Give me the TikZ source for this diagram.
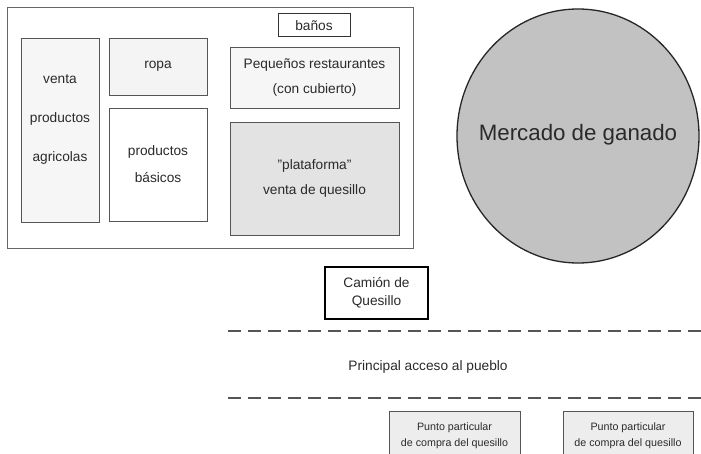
\documentclass[tikz,border=0pt]{standalone}
\usepackage{fontspec}
\setmainfont{Liberation Sans}
\definecolor{linegray}{HTML}{555555}
\definecolor{textgray}{HTML}{2A2A2A}
\tikzset{
  puesto/.style={draw=linegray, line width=0.9pt, inner sep=0pt, align=center, text=textgray},
  txt/.style={font=\fontsize{13.7}{#1}\selectfont},
  txt/.default=16,
  camino/.style={draw=linegray, line width=1.3pt, dash pattern=on 13pt off 7pt}
}
\begin{document}
\begin{tikzpicture}[x=1pt,y=-1pt]
  \clip (0,0) rectangle (701,454);
  \fill[white] (0,0) rectangle (701,454);
  % plaza
  \node[puesto, line width=0.8pt, draw=black!60, minimum width=406pt, minimum height=241pt] (plaza) at (210,127.5) {};
  \node[puesto, fill=gray!7, minimum width=78pt, minimum height=184pt] (venta) at (60,130) {};
  \node[txt=39, align=center, text=textgray, inner sep=0pt] (ventatxt) at (60,119) {venta\\productos\\agricolas};
  \node[puesto, txt, fill=gray!9, minimum width=98pt, minimum height=57pt] (ropa) at (158,66.5) {ropa};
  \node[puesto, txt=27, fill=white, minimum width=98pt, minimum height=113pt] (basicos) at (158,164.5) {productos\\b\'asicos};
  \node[puesto, txt, line width=1pt, draw=black!80, fill=white, minimum width=72pt, minimum height=23pt] (banos) at (314,25.5) {ba\~nos};
  \node[puesto, txt=25, fill=gray!7, minimum width=169pt, minimum height=61pt] (restaurantes) at (314.5,78) {Peque\~nos restaurantes\\(con cubierto)};
  \node[puesto, txt=25, fill=gray!22, minimum width=169pt, minimum height=113pt] (plataforma) at (314.5,178.5) {\symbol{34}plataforma\symbol{34}\\venta de quesillo};
  % mercado
  \draw[draw=black!85, line width=1.3pt, fill=gray!48] (578,136) ellipse [x radius=121pt, y radius=127pt];
  \node[font=\fontsize{22.3}{26}\selectfont, text=textgray] (mercado) at (578,135) {Mercado de ganado};
  % camion y camino
  \node[puesto, txt=18, draw=black, line width=2pt, fill=white, minimum width=103pt, minimum height=52pt] (camion) at (376.5,293) {Cami\'on de\\Quesillo};
  \draw[camino] (228,331) -- (701,331);
  \node[txt, text=textgray] (acceso) at (428,367) {Principal acceso al pueblo};
  \draw[camino] (228,398) -- (701,398);
  \node[puesto, font=\fontsize{10.7}{16}\selectfont, fill=gray!14, minimum width=131pt, minimum height=50pt] (punto1) at (454.5,436) {Punto particular\\de compra del quesillo};
  \node[puesto, font=\fontsize{10.7}{16}\selectfont, fill=gray!14, minimum width=130pt, minimum height=50pt] (punto2) at (628,436) {Punto particular\\de compra del quesillo};
\end{tikzpicture}
\end{document}
